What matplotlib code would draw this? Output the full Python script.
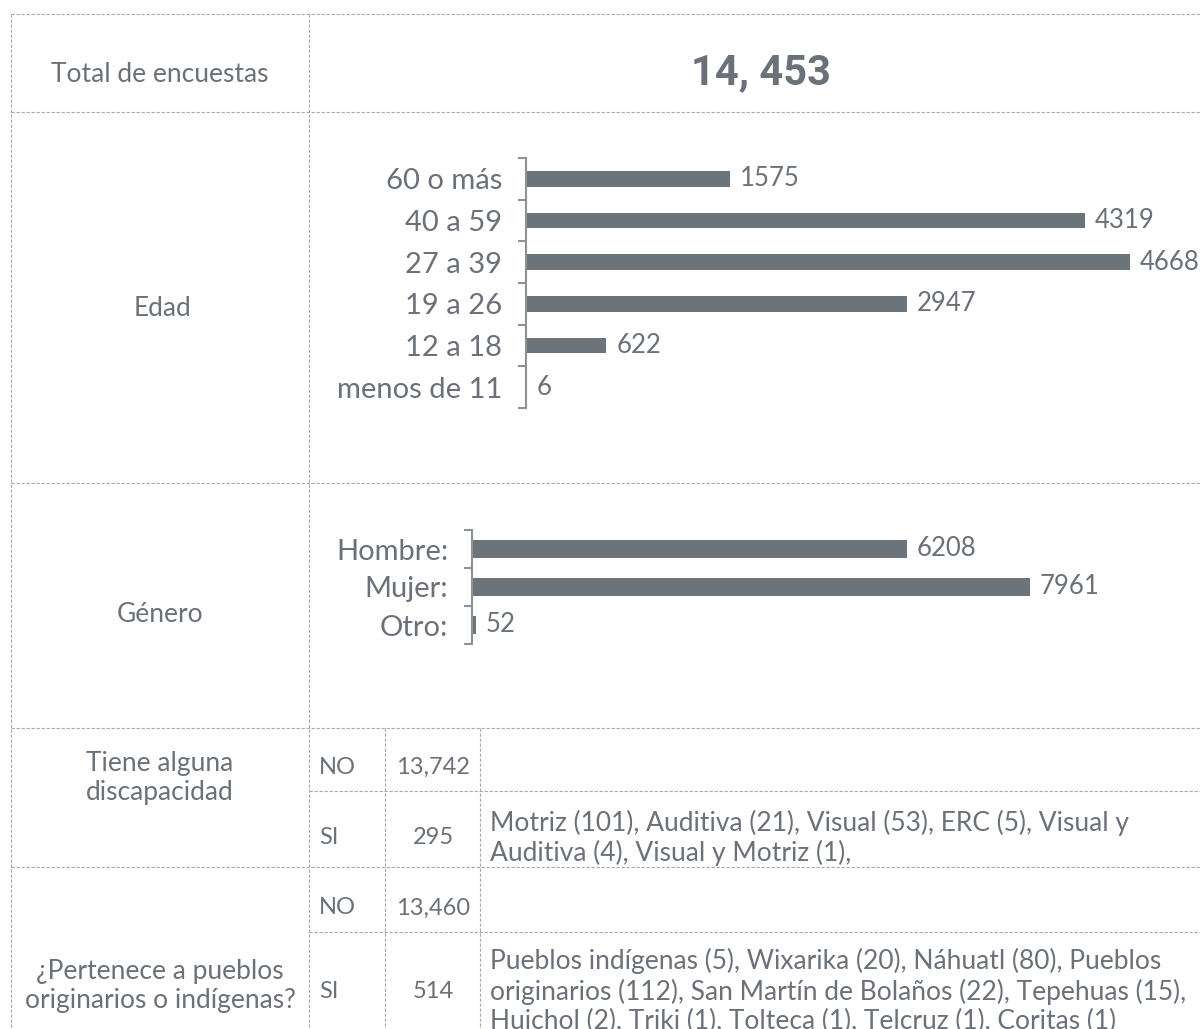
import numpy as np
import matplotlib.pyplot as plt

plt.rcParams['font.family'] = ['Lato', 'DejaVu Sans']

# datos
total = "14, 453"
edad_labels = ["60 o más", "40 a 59", "27 a 39", "19 a 26", "12 a 18", "menos de 11"]
edad_values = [1575, 4319, 4668, 2947, 622, 6]
genero_labels = ["Hombre:", "Mujer:", "Otro:"]
genero_values = [6208, 7961, 52]
disc_resp = ["NO", "SI"]
disc_counts = ["13,742", "295"]
disc_detalle = ("Motriz (101), Auditiva (21), Visual (53), ERC (5), Visual y\n"
                "Auditiva (4), Visual y Motriz (1),")
pueblo_resp = ["NO", "SI"]
pueblo_counts = ["13,460", "514"]
pueblo_detalle = ("Pueblos indígenas (5), Wixarika (20), Náhuatl (80), Pueblos\n"
                  "originarios (112), San Martín de Bolaños (22), Tepehuas (15),\n"
                  "Huichol (2), Triki (1), Tolteca (1), Telcruz (1), Coritas (1)")

W, H = 1200, 1029
TXT = '#6b7179'
BAR = '#6b737b'
GRID = '#a9a9a9'

fig = plt.figure(figsize=(W / 100, H / 100), dpi=100)
bg = fig.add_axes([0, 0, 1, 1])
bg.set_xlim(0, W)
bg.set_ylim(H, 0)
bg.axis('off')


def hline(y, x0, x1):
    bg.plot([x0, x1], [y, y], color=GRID, lw=0.8, ls=(0, (3, 1.5)))


def vline(x, y0, y1):
    bg.plot([x, x], [y0, y1], color=GRID, lw=0.8, ls=(0, (3, 1.5)))


for y in [14, 112, 483, 728, 867]:
    hline(y, 11, W)
hline(791, 309, W)
hline(932, 309, W)
vline(11, 14, H)
vline(309, 14, H)
vline(385, 728, H)
vline(480, 728, H)

fs = 19
ls = 1.22
bg.text(160, 74, "Total de encuestas", ha='center', va='center', fontsize=fs, color=TXT)
bg.text(761, 73, total, ha='center', va='center', fontsize=30, color=TXT,
        fontweight='bold', family=['Roboto', 'DejaVu Sans'])
bg.text(162, 309, "Edad", ha='center', va='center', fontsize=fs, color=TXT)
bg.text(160, 615, "Género", ha='center', va='center', fontsize=fs, color=TXT)
bg.text(160, 778, "Tiene alguna\ndiscapacidad", ha='center', va='center',
        fontsize=fs, color=TXT, linespacing=ls)
bg.text(160, 986, "¿Pertenece a pueblos\noriginarios o indígenas?", ha='center',
        va='center', fontsize=fs, color=TXT, linespacing=ls)

for resp, cnt, y in zip(disc_resp, disc_counts, [767, 838]):
    bg.text(319, y, resp, ha='left', va='center', fontsize=17, color=TXT)
    bg.text(433, y, cnt, ha='center', va='center', fontsize=17, color=TXT)
bg.text(490, 838, disc_detalle, ha='left', va='center', fontsize=fs, color=TXT,
        linespacing=ls)

for resp, cnt, y in zip(pueblo_resp, pueblo_counts, [908, 992]):
    bg.text(319, y, resp, ha='left', va='center', fontsize=17, color=TXT)
    bg.text(433, y, cnt, ha='center', va='center', fontsize=17, color=TXT)
bg.text(490, 991, pueblo_detalle, ha='left', va='center', fontsize=fs, color=TXT,
        linespacing=ls)


def bar_panel(rect, labels, values, height):
    x0, y0, x1, y1 = rect
    ax = fig.add_axes([x0 / W, 1 - y1 / H, (x1 - x0) / W, (y1 - y0) / H])
    n = len(values)
    pos = np.arange(n)[::-1]
    ax.barh(pos, values, height=height, color=BAR)
    ax.set_xlim(0, max(values))
    ax.set_ylim(-0.5, n - 0.5)
    for s in ['top', 'right', 'bottom']:
        ax.spines[s].set_visible(False)
    ax.spines['left'].set_color('#8d9297')
    ax.spines['left'].set_linewidth(1.5)
    ax.set_xticks([])
    ax.set_yticks(np.arange(-0.5, n, 1.0))
    ax.set_yticklabels([])
    ax.tick_params(axis='y', which='major', length=6, width=1.5, color='#8d9297')
    ax.set_yticks(pos, minor=True)
    ax.set_yticklabels(labels, minor=True)
    ax.tick_params(axis='y', which='minor', length=0, pad=17, labelsize=21,
                   labelcolor=TXT)
    for p, v in zip(pos, values):
        ax.annotate(str(v), (v, p), xytext=(7, 0), textcoords='offset points',
                    ha='left', va='center', fontsize=18.5, color=TXT,
                    annotation_clip=False)
    ax.patch.set_alpha(0)
    return ax


bar_panel((526, 158, 1130, 408), edad_labels, edad_values, 0.38)
bar_panel((472, 530, 1030, 644), genero_labels, genero_values, 0.45)

fig.savefig('out.png', dpi=100)
